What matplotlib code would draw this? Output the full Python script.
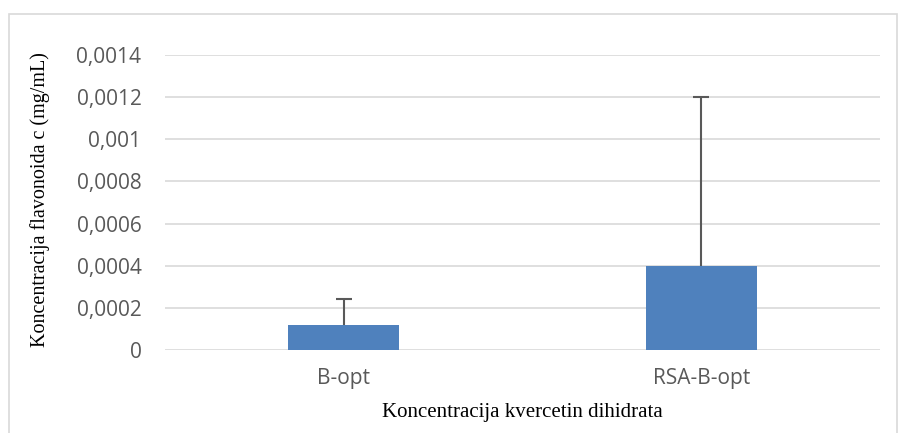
import matplotlib
matplotlib.use("Agg")
import matplotlib.pyplot as plt
from matplotlib.patches import Rectangle

categories = ["B-opt", "RSA-B-opt"]
values = [0.00012, 0.0004]
err_plus = [0.00012, 0.0008]
yticks = [0, 0.0002, 0.0004, 0.0006, 0.0008, 0.001, 0.0012, 0.0014]
ytick_labels = ["0", "0,0002", "0,0004", "0,0006", "0,0008", "0,001", "0,0012", "0,0014"]
xlabel = "Koncentracija kvercetin dihidrata"
ylabel = "Koncentracija flavonoida c (mg/mL)"

fig = plt.figure(figsize=(8.98, 4.33), dpi=100)
fig.patches.append(Rectangle((9/898, -0.01), 888/898, 1 - 14/433 + 0.01,
                             transform=fig.transFigure, fill=False,
                             edgecolor="#D9D9D9", linewidth=1.2))
ax = fig.add_axes([165/898, 1 - 350/433, 715/898, 295/433])
x = list(range(len(categories)))
ax.bar(x, values, width=0.31, color="#4F81BD", zorder=3)
tops = [v + e for v, e in zip(values, err_plus)]
ax.errorbar(x, values, yerr=[[0]*len(values), err_plus], fmt="none",
            ecolor="#595959", elinewidth=1.5, capsize=0, zorder=4)
ax.plot(x, tops, linestyle="none", marker="_", markersize=12,
        markeredgewidth=1.5, color="#595959", zorder=4)
ax.set_xlim(-0.5, 1.5)
ax.set_ylim(0, 0.0014)
ax.set_yticks(yticks)
ax.set_yticklabels(ytick_labels)
ax.set_xticks(x)
ax.set_xticklabels(categories)
ax.grid(axis="y", color="#D9D9D9", linewidth=1.2, zorder=0)
ax.set_axisbelow(True)
for s in ax.spines.values():
    s.set_visible(False)
ax.tick_params(length=0, labelsize=15, labelcolor="#595959")
for lbl in ax.get_xticklabels() + ax.get_yticklabels():
    lbl.set_fontfamily("Open Sans")
ax.tick_params(axis="y", pad=17)
ax.tick_params(axis="x", pad=13)
fig.text(0.5 * (165 + 880) / 898, 1 - 412/433, xlabel, ha="center", va="center",
         fontsize=15, family="Liberation Serif", color="black")
fig.text(40/898, 1 - 200/433, ylabel, ha="center", va="center", rotation=90,
         fontsize=14.5, family="Liberation Serif", color="black")
fig.savefig("out.png", dpi=100)
